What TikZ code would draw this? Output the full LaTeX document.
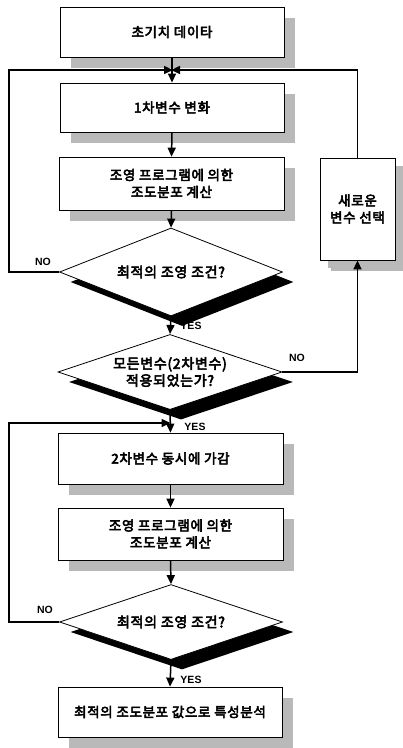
\documentclass[tikz,border=0pt]{standalone}
\usepackage{fontspec}
\setmainfont{Liberation Sans}
\newfontfamily\kr{Noto Sans CJK KR}[LetterSpace=5,FakeBold=4]
\usetikzlibrary{shapes.geometric,arrows.meta,shadows}
\tikzset{
  stepbox/.style={draw, line width=0.8pt, fill=white, align=center, inner sep=0pt,
    font=\kr\fontsize{13.5}{17}\selectfont,
    general shadow={fill=gray!55, shadow xshift=11pt, shadow yshift=-11pt}},
  decide/.style={draw, line width=0.8pt, fill=white, shape=diamond, aspect=2.5, align=center, inner sep=0pt,
    font=\kr\fontsize{14}{17}\selectfont,
    general shadow={fill=black, shadow xshift=11pt, shadow yshift=-10pt}},
  arr/.style={line width=1.5pt, -{Triangle[length=9pt,width=8pt]}},
  lab/.style={font=\bfseries\fontsize{10.5}{12}\selectfont, inner sep=0pt}
}
\begin{document}
\begin{tikzpicture}[x=1pt,y=-1pt]
\useasboundingbox (0,0) rectangle (403,748);
\node[stepbox, minimum width=224pt, minimum height=50pt] (b1) at (172,32) {초기치 데이타};
\node[stepbox, minimum width=224pt, minimum height=49pt] (b2) at (172,107.5) {1차변수 변화};
\node[stepbox, minimum width=225pt, minimum height=53pt] (b3) at (171.5,183.5) {조영 프로그램에 의한\\조도분포 계산};
\node[decide, minimum width=223pt, minimum height=88pt] (d1) at (171,272) {최적의 조영 조건?};
\node[decide, minimum width=224pt, minimum height=70pt] (d2) at (170,372) {모든변수(2차변수)\\적용되었는가?};
\node[stepbox, minimum width=225pt, minimum height=51pt] (b4) at (170.5,458.5) {2차변수 동시에 가감};
\node[stepbox, minimum width=225pt, minimum height=52pt] (b5) at (170.5,534) {조영 프로그램에 의한\\조도분포 계산};
\node[decide, minimum width=223pt, minimum height=75pt] (d3) at (171,622) {최적의 조영 조건?};
\node[stepbox, minimum width=224pt, minimum height=50pt] (b6) at (170,712) {최적의 조도분포 값으로 특성분석};
\node[stepbox, minimum width=75pt, minimum height=102pt, general shadow={fill=gray!55, shadow xshift=8pt, shadow yshift=-8pt}] (bn) at (357.5,209) {새로운\\변수 선택};

\coordinate (j1) at (b2.north |- 0,70);
\coordinate (j2) at (b4.north |- 0,423);
\coordinate (l1) at (9,70);
\coordinate (l2) at (9,423);

% first loop
\draw[arr] (b1.south) -- (b2.north);
\draw[arr] (d1.west) -| (l1) -- ([xshift=1pt]j1);
\draw[arr] (bn.north) |- ([xshift=-1pt]j1);
\draw[arr] (b2.south) -- (b3.north);
\draw[arr] (b3.south) -- (d1.north);
\draw[arr] (d1.south) -- (d2.north);
\draw[arr] (d2.east) -| (bn.south);
% second part
\draw[arr] (d2.south) -- (b4.north);
\draw[arr] (d3.west) -| (l2) -- (j2);
\draw[arr] (b4.south) -- (b5.north);
\draw[arr] (b5.south) -- (d3.north);
\draw[arr] (d3.south) -- (b6.north);

\node[lab] (n1) at (43,262) {NO};
\node[lab] (y1) at (191,326) {YES};
\node[lab] (n2) at (297,358) {NO};
\node[lab] (y2) at (195,427) {YES};
\node[lab] (n3) at (45,610) {NO};
\node[lab] (y3) at (191,680) {YES};
\end{tikzpicture}
\end{document}
